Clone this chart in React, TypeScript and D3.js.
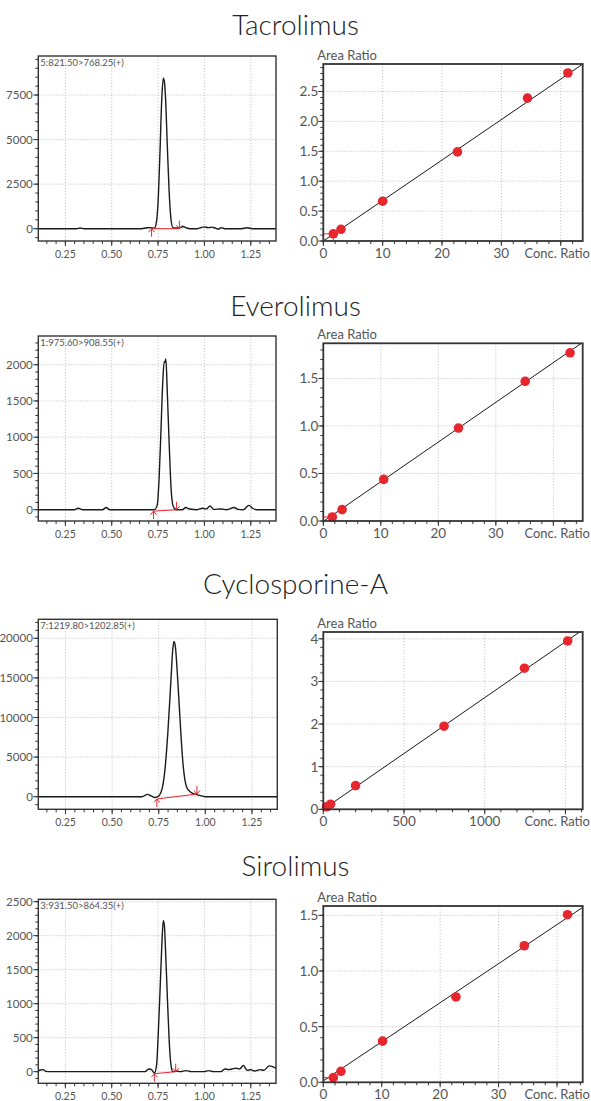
import React from 'react';
import * as d3 from 'd3';

const W = 591;
const H = 1101;

// compounds, one row each
const compounds = ['Tacrolimus', 'Everolimus', 'Cyclosporine-A', 'Sirolimus'];
const transitions = ['5:821.50>768.25(+)', '1:975.60>908.55(+)', '7:1219.80>1202.85(+)', '3:931.50>864.35(+)'];

// chromatogram traces: [retention time (min), intensity]
const tacrolimusTrace = [
  [0.104, 0], [0.31, 0], [0.33, 40], [0.35, 0], [0.66, 0], [0.69, 50], [0.71, 60], [0.73, 30],
  [0.74, 300], [0.75, 1500], [0.76, 4200], [0.77, 7300], [0.778, 8450], [0.784, 8250], [0.79, 7400],
  [0.8, 4600], [0.81, 2000], [0.82, 500], [0.83, 60], [0.85, 40], [0.87, 70], [0.885, 120], [0.9, 60],
  [0.92, 0], [0.96, 0], [0.98, 60], [1.0, 100], [1.02, 60], [1.04, 90], [1.06, 30], [1.075, -20],
  [1.09, 60], [1.11, 0], [1.2, 0], [1.23, 50], [1.26, 0], [1.386, 0],
];
const everolimusTrace = [
  [0.104, 0], [0.3, 0], [0.32, 20], [0.34, 0], [0.45, 0], [0.47, 30], [0.49, 0], [0.73, 0],
  [0.745, 60], [0.755, 400], [0.765, 1050], [0.775, 1750], [0.783, 2040], [0.787, 2030], [0.792, 2080],
  [0.8, 1600], [0.81, 900], [0.82, 300], [0.83, 60], [0.845, 0], [0.88, 0], [0.9, 30], [0.92, 10],
  [0.96, 0], [0.99, 20], [1.01, 10], [1.03, 50], [1.05, 5], [1.09, 10], [1.12, 0], [1.16, 30],
  [1.18, 5], [1.21, 0], [1.24, 60], [1.26, 20], [1.28, 0], [1.386, 0],
];
const cyclosporineTrace = [
  [0.104, 0], [0.66, 0], [0.69, 300], [0.71, 100], [0.73, -100], [0.75, 100], [0.77, 1200],
  [0.785, 3800], [0.8, 8500], [0.815, 14500], [0.825, 18500], [0.832, 19600], [0.84, 18800],
  [0.85, 15500], [0.86, 11500], [0.87, 7500], [0.88, 4200], [0.89, 2200], [0.9, 1200], [0.92, 600],
  [0.95, 300], [0.98, 100], [1.0, 0], [1.386, 0],
];
const sirolimusTrace = [
  [0.104, 10], [0.115, 25], [0.13, 30], [0.145, 5], [0.17, 0], [0.68, 0], [0.7, 40], [0.715, 30],
  [0.73, -20], [0.742, 100], [0.75, 500], [0.76, 1150], [0.77, 1850], [0.778, 2220], [0.784, 2150],
  [0.79, 1800], [0.8, 1100], [0.81, 450], [0.82, 90], [0.83, 0], [0.85, 10], [0.87, 0], [0.9, 15],
  [0.93, 0], [1.0, 0], [1.02, 15], [1.05, 0], [1.09, 0], [1.11, 40], [1.13, 30], [1.15, 40],
  [1.17, 50], [1.19, 40], [1.21, 90], [1.23, 20], [1.25, 30], [1.27, 10], [1.3, 30], [1.32, 20],
  [1.35, 85], [1.37, 70], [1.386, 50],
];
const traces = [tacrolimusTrace, everolimusTrace, cyclosporineTrace, sirolimusTrace];

// integration baselines: [start, end] as [rt, intensity]
const peakBaselines = [
  [[0.715, 0], [0.865, 0]],
  [[0.725, -20], [0.85, 0]],
  [[0.74, -290], [0.955, 340]],
  [[0.73, -30], [0.845, 0]],
];

// chromatogram axes
const rtDomain = [0.104, 1.386];
const rtTicks = [0.25, 0.5, 0.75, 1.0, 1.25];
const rtMinor = 0.05;
const chromYDomains = [[-690, 9690], [-156, 2396], [-1590, 22400], [-171, 2535]];
const chromYTicks = [[0, 2500, 5000, 7500], [0, 500, 1000, 1500, 2000], [0, 5000, 10000, 15000, 20000], [0, 500, 1000, 1500, 2000, 2500]];
const chromYMinor = [500, 100, 1000, 100];

// calibration points
const tacrolimusConc = [1.69, 2.98, 10.0, 22.6, 34.4, 41.2];
const tacrolimusRatio = [0.12, 0.196, 0.666, 1.49, 2.39, 2.81];
const everolimusConc = [1.57, 3.27, 10.5, 23.5, 35.1, 42.9];
const everolimusRatio = [0.042, 0.12, 0.438, 0.978, 1.47, 1.77];
const cyclosporineConc = [20, 45, 200, 748, 1246, 1514];
const cyclosporineRatio = [0.06, 0.12, 0.556, 1.95, 3.31, 3.95];
const sirolimusConc = [1.71, 3.02, 10.15, 22.7, 34.4, 41.8];
const sirolimusRatio = [0.042, 0.099, 0.37, 0.767, 1.227, 1.506];
const concs = [tacrolimusConc, everolimusConc, cyclosporineConc, sirolimusConc];
const ratios = [tacrolimusRatio, everolimusRatio, cyclosporineRatio, sirolimusRatio];

// fitted calibration lines
const fitSlope = [0.0677, 0.0418, 0.00262, 0.0351];
const fitIntercept = [0, -0.005, 0, 0.013];

// calibration axes
const calXDomains = [[0, 43.7], [0, 45.1], [0, 1607], [0, 44.4]];
const calYDomains = [[0, 2.96], [0, 1.87], [0, 4.16], [0, 1.584]];
const calXTicks = [[0, 10, 20, 30, 40], [0, 10, 20, 30, 40], [0, 500, 1000, 1500], [0, 10, 20, 30, 40]];
const calXMinor = [2, 2, 100, 2];
const calYTicks = [[0, 0.5, 1, 1.5, 2, 2.5], [0, 0.5, 1, 1.5], [0, 1, 2, 3, 4], [0, 0.5, 1, 1.5]];
const calYMinor = [0.1, 0.1, 0.2, 0.1];
const calYFormat = ['.1f', '.1f', 'd', '.1f'];

// layout of each row (pixels)
const rows = [
  { title: 35, chrom: [38.3, 56, 276, 241], cal: [323.3, 64, 582.7, 241] },
  { title: 316, chrom: [38.3, 336, 276, 521], cal: [323.3, 343.3, 582.7, 521] },
  { title: 594, chrom: [38.3, 619.3, 277.3, 809.3], cal: [323.3, 632, 582.7, 809.3] },
  { title: 876, chrom: [38.3, 899.3, 276, 1083.3], cal: [323.3, 906, 582.7, 1082.3] },
];

const FONT = 'Lato, "Open Sans", sans-serif';
const TEXT = '#555';
const RED = '#e8262d';
const GRID = '#b8b8b8';

const steps = (lo, hi, step) =>
  d3.range(Math.ceil(lo / step - 1e-6), Math.floor(hi / step + 1e-6) + 1).map((i) => i * step);

function Chromatogram({ i }) {
  const [x0, y0, x1, y1] = rows[i].chrom;
  const x = d3.scaleLinear().domain(rtDomain).range([x0, x1]);
  const yDom = chromYDomains[i];
  const y = d3.scaleLinear().domain(yDom).range([y1, y0]);
  const line = d3.line().x((d) => x(d[0])).y((d) => y(d[1])).curve(d3.curveMonotoneX);
  const [b0, b1] = peakBaselines[i];
  const clip = `chrom-clip-${i}`;
  const ax = x(b0[0]), ay = y(b0[1]);
  const bx = x(b1[0]), by = y(b1[1]);
  return (
    <g>
      <clipPath id={clip}>
        <rect x={x0} y={y0} width={x1 - x0} height={y1 - y0} />
      </clipPath>
      {/* grid */}
      {rtTicks.map((t) => (
        <line key={'gx' + t} x1={x(t)} x2={x(t)} y1={y0} y2={y1} stroke={GRID} strokeDasharray="1.2,1.8" strokeWidth={0.8} />
      ))}
      {chromYTicks[i].map((t) => (
        <line key={'gy' + t} x1={x0} x2={x1} y1={y(t)} y2={y(t)} stroke={GRID} strokeDasharray="1.2,1.8" strokeWidth={0.8} />
      ))}
      {/* trace */}
      <path d={line(traces[i])} fill="none" stroke="#1a1a1a" strokeWidth={1.4} clipPath={`url(#${clip})`} />
      {/* integration baseline + markers */}
      <g stroke={RED} strokeWidth={1} fill="none">
        <line x1={ax} y1={ay} x2={bx} y2={by} />
        <path d={`M${ax},${ay + 8}L${ax},${ay}M${ax - 3},${ay + 3.5}L${ax},${ay}L${ax + 3},${ay + 3.5}`} />
        <path d={`M${bx},${by - 8}L${bx},${by}M${bx - 3},${by - 3.5}L${bx},${by}L${bx + 3},${by - 3.5}`} />
      </g>
      {/* box */}
      <rect x={x0} y={y0} width={x1 - x0} height={y1 - y0} fill="none" stroke="#333" strokeWidth={1.4} />
      {/* y axis */}
      {steps(yDom[0], yDom[1], chromYMinor[i]).map((t) => (
        <line key={'ym' + t} x1={x0 - 3} x2={x0} y1={y(t)} y2={y(t)} stroke="#333" strokeWidth={1} />
      ))}
      {chromYTicks[i].map((t) => (
        <g key={'yt' + t}>
          <line x1={x0 - 5} x2={x0} y1={y(t)} y2={y(t)} stroke="#333" strokeWidth={1} />
          <text x={x0 - 5.5} y={y(t)} dy="0.36em" textAnchor="end" fontSize={11.5} fill={TEXT} fontFamily={FONT}>
            {t}
          </text>
        </g>
      ))}
      {/* x axis */}
      {steps(rtDomain[0], rtDomain[1], rtMinor).map((t) => (
        <line key={'xm' + t} x1={x(t)} x2={x(t)} y1={y1} y2={y1 + 3} stroke="#333" strokeWidth={1} />
      ))}
      {rtTicks.map((t) => (
        <g key={'xt' + t}>
          <line x1={x(t)} x2={x(t)} y1={y1} y2={y1 + 5} stroke="#333" strokeWidth={1} />
          <text x={x(t)} y={y1 + 17} textAnchor="middle" fontSize={10.5} fill={TEXT} fontFamily={FONT}>
            {d3.format('.2f')(t)}
          </text>
        </g>
      ))}
      <text x={x0 + 2} y={y0 + 10} fontSize={9.5} fill={TEXT} fontFamily={FONT}>
        {transitions[i]}
      </text>
    </g>
  );
}

function Calibration({ i }) {
  const [x0, y0, x1, y1] = rows[i].cal;
  const xDom = calXDomains[i];
  const yDom = calYDomains[i];
  const x = d3.scaleLinear().domain(xDom).range([x0, x1]);
  const y = d3.scaleLinear().domain(yDom).range([y1, y0]);
  const fit = (c) => fitSlope[i] * c + fitIntercept[i];
  const clip = `cal-clip-${i}`;
  const fmt = d3.format(calYFormat[i]);
  const lastX = calXTicks[i][calXTicks[i].length - 1];
  const px = concs[i][0], py = ratios[i][0];
  return (
    <g>
      <clipPath id={clip}>
        <rect x={x0} y={y0} width={x1 - x0} height={y1 - y0} />
      </clipPath>
      {calXTicks[i].filter((t) => t > 0).map((t) => (
        <line key={'gx' + t} x1={x(t)} x2={x(t)} y1={y0} y2={y1} stroke={GRID} strokeDasharray="1.2,1.8" strokeWidth={0.8} />
      ))}
      {calYTicks[i].filter((t) => t > 0).map((t) => (
        <line key={'gy' + t} x1={x0} x2={x1} y1={y(t)} y2={y(t)} stroke={GRID} strokeDasharray="1.2,1.8" strokeWidth={0.8} />
      ))}
      <g clipPath={`url(#${clip})`}>
        <line x1={x(xDom[0])} y1={y(fit(xDom[0]))} x2={x(xDom[1])} y2={y(fit(xDom[1]))} stroke="#1a1a1a" strokeWidth={1} />
        <line x1={x(0)} x2={x(px)} y1={y(py)} y2={y(py)} stroke={RED} strokeWidth={1} />
        <line x1={x(px)} x2={x(px)} y1={y(py)} y2={y(0)} stroke={RED} strokeWidth={1} />
      </g>
      {concs[i].map((c, k) => (
        <circle key={k} cx={x(c)} cy={y(ratios[i][k])} r={4.8} fill={RED} />
      ))}
      <rect x={x0} y={y0} width={x1 - x0} height={y1 - y0} fill="none" stroke="#333" strokeWidth={1.8} />
      {steps(yDom[0], yDom[1], calYMinor[i]).map((t) => (
        <line key={'ym' + t} x1={x0 - 3} x2={x0} y1={y(t)} y2={y(t)} stroke="#333" strokeWidth={1} />
      ))}
      {calYTicks[i].map((t) => (
        <g key={'yt' + t}>
          <line x1={x0 - 5} x2={x0} y1={y(t)} y2={y(t)} stroke="#333" strokeWidth={1} />
          <text x={x0 - 5} y={y(t)} dy="0.36em" textAnchor="end" fontSize={13.5} fill={TEXT} fontFamily={FONT}>
            {fmt(t)}
          </text>
        </g>
      ))}
      {steps(xDom[0], xDom[1], calXMinor[i]).map((t) => (
        <line key={'xm' + t} x1={x(t)} x2={x(t)} y1={y1} y2={y1 + 3} stroke="#333" strokeWidth={1} />
      ))}
      {calXTicks[i].map((t) => (
        <g key={'xt' + t}>
          <line x1={x(t)} x2={x(t)} y1={y1} y2={y1 + 5} stroke="#333" strokeWidth={1} />
          {t !== lastX && (
            <text x={x(t)} y={y1 + 17} textAnchor="middle" fontSize={13.5} fill={TEXT} fontFamily={FONT}>
              {t}
            </text>
          )}
        </g>
      ))}
      <text x={x0 - 6} y={y0 - 4} fontSize={13} fill={TEXT} fontFamily={FONT}>
        Area Ratio
      </text>
      <text x={590} y={y1 + 17} textAnchor="end" fontSize={13} fill={TEXT} fontFamily={FONT}>
        Conc. Ratio
      </text>
    </g>
  );
}

export default function App() {
  return (
    <div style={{ position: 'absolute', left: 0, top: 0 }}>
      <svg width={W} height={H} viewBox={`0 0 ${W} ${H}`} style={{ display: 'block', background: '#fff' }}>
        {compounds.map((name, i) => (
          <g key={name}>
            <text x={W / 2} y={rows[i].title} textAnchor="middle" fontSize={28} fontWeight={300} fill="#222" fontFamily={FONT}>
              {name}
            </text>
            <Chromatogram i={i} />
            <Calibration i={i} />
          </g>
        ))}
      </svg>
    </div>
  );
}
